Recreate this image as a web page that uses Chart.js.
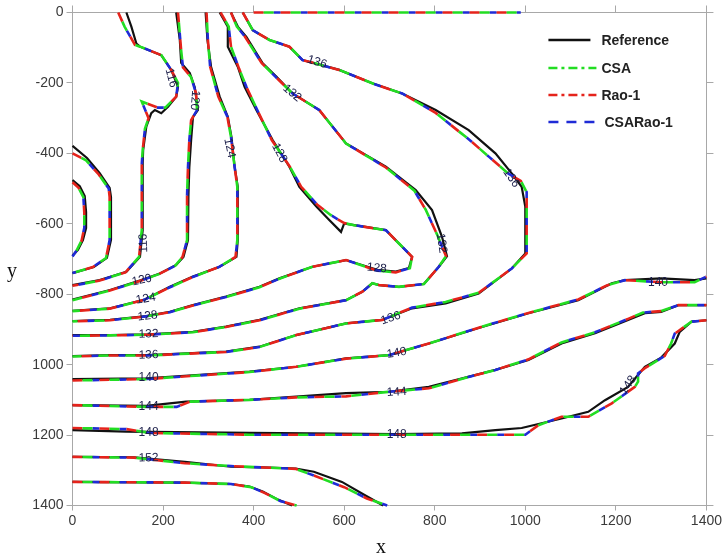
<!DOCTYPE html>
<html>
<head>
<meta charset="utf-8">
<title>Contour comparison</title>
<script src="https://cdn.jsdelivr.net/npm/chart.js@4.4.1/dist/chart.umd.min.js"></script>
<style>
    html, body { margin: 0; padding: 0; background: #fff; }
    canvas { display: block; }
</style>
</head>
<body>
<canvas id="contour-chart" width="724" height="560"></canvas>
<script>
// 刻度標籤
const xTickLabels = ['0', '200', '400', '600', '800', '1000', '1200', '1400'];
const yTickLabels = ['0', '-200', '-400', '-600', '-800', '1000', '1200', '1400'];

// 等值線 (x, y) — Reference
const ref108 = [[0,476],[16,493],[27,521],[30,567],[30,612],[23,646],[12,674],[0,691]];
const ref112 = [[0,379],[32,413],[60,456],[82,498],[85,524],[85,646],[76,697],[47,723],[0,740]];
const ref116 = [[119,0],[130,40],[141,88],[149,97],[196,121],[218,163],[233,211],[229,239],[211,268],[196,286],[182,277],[174,286],[163,324],[156,391],[155,427],[155,618],[149,694],[119,736],[60,760],[0,774]];
const ref120 = [[229,0],[237,78],[240,143],[259,172],[270,212],[277,277],[266,297],[262,362],[258,440],[256,520],[255,646],[245,694],[229,717],[193,741],[152,760],[83,788],[0,815]];
const ref124 = [[294,0],[298,78],[306,154],[325,239],[343,296],[351,353],[358,438],[365,495],[365,646],[362,694],[325,722],[266,750],[215,779],[160,815],[83,840],[0,847]];
const ref128 = [[325,0],[343,40],[343,97],[365,154],[380,211],[406,277],[442,362],[479,438],[501,495],[538,550],[567,589],[593,623],[600,599],[622,604],[692,618],[721,656],[750,694],[743,726],[714,736],[673,731],[604,703],[530,722],[457,755],[413,779],[339,807],[266,831],[215,850],[163,862],[83,873],[0,876]];
const ref132 = [[350,0],[365,40],[384,69],[420,144],[450,182],[486,230],[545,277],[604,372],[692,438],[758,504],[794,561],[816,637],[827,692],[809,722],[776,771],[721,779],[677,774],[662,769],[640,793],[604,817],[501,840],[413,873],[339,892],[266,907],[167,914],[83,916],[0,916]];
const ref136 = [[376,0],[398,50],[435,78],[479,97],[508,135],[589,163],[662,201],[728,230],[802,277],[875,334],[934,400],[970,457],[992,495],[1000,552],[1000,684],[970,727],[897,798],[824,826],[750,840],[684,873],[604,883],[494,916],[413,949],[339,963],[167,973],[83,973],[0,976]];
const ref140 = [[0,1041],[163,1039],[391,1020],[494,1006],[604,982],[699,973],[787,940],[897,896],[1007,854],[1117,817],[1191,769],[1220,760],[1300,755],[1374,760],[1400,755]];
const ref144 = [[0,1115],[163,1117],[251,1105],[391,1100],[494,1091],[604,1081],[699,1077],[787,1063],[861,1039],[934,1015],[1007,987],[1080,940],[1154,911],[1227,873],[1264,854],[1300,850],[1338,831],[1400,831]];
const ref148 = [[0,1186],[119,1190],[391,1194],[714,1197],[860,1195],[934,1186],[992,1180],[1080,1153],[1139,1134],[1176,1101],[1227,1063],[1264,1006],[1300,980],[1330,940],[1341,907],[1367,878],[1400,874]];
const ref152 = [[0,1262],[136,1263],[248,1276],[350,1290],[420,1292],[493,1295],[533,1304],[595,1333],[645,1370],[686,1400]];
const ref156 = [[0,1333],[248,1335],[350,1339],[391,1346],[420,1360],[455,1384],[485,1400]];

// 等值線 — CSA / Rao-1 / CSARao-1 (三者幾乎重合)
const alg108 = [[0,482],[13,497],[24,524],[26,567],[26,612],[20,648],[9,676],[0,693]];
const alg112 = [[0,400],[30,420],[58,460],[80,500],[82,524],[82,646],[74,697],[45,723],[0,740]];
const alg116 = [[101,0],[115,40],[138,92],[149,97],[196,121],[218,163],[233,200],[229,239],[205,270],[188,270],[153,253],[168,300],[160,330],[155,391],[153,430],[153,618],[147,694],[117,738],[58,762],[0,776]];
const alg120 = [[233,0],[240,108],[244,156],[262,184],[273,230],[275,277],[262,306],[258,362],[255,440],[253,520],[253,646],[243,694],[227,719],[191,743],[150,762],[81,790],[0,817]];
const alg124 = [[296,0],[299,78],[304,154],[322,239],[342,296],[350,353],[358,438],[364,495],[364,646],[360,694],[323,723],[264,752],[214,781],[158,816],[82,841],[0,848]];
const alg128 = [[327,0],[345,40],[350,97],[368,160],[384,211],[408,277],[440,362],[480,438],[505,495],[540,545],[570,575],[600,598],[622,604],[692,618],[721,656],[750,694],[745,726],[714,738],[673,733],[604,703],[530,722],[457,756],[413,780],[339,808],[266,832],[215,851],[163,863],[83,874],[0,877]];
const alg132 = [[350,0],[363,40],[381,69],[418,144],[448,182],[486,230],[545,277],[604,372],[692,440],[755,506],[780,560],[805,630],[825,692],[809,722],[776,771],[721,779],[677,774],[662,769],[640,793],[604,817],[501,841],[413,874],[339,893],[266,908],[167,915],[83,917],[0,918]];
const alg136 = [[376,0],[398,50],[435,78],[479,97],[508,135],[589,163],[662,201],[728,230],[802,285],[875,360],[920,410],[962,457],[990,478],[1003,510],[1003,684],[970,727],[897,796],[824,822],[750,838],[684,873],[604,883],[494,916],[413,950],[339,964],[167,974],[83,974],[0,977]];
const alg136Edge = [[400,0],[990,0]];
const alg140 = [[0,1045],[163,1041],[391,1021],[494,1006],[604,983],[699,973],[787,940],[897,895],[1007,853],[1117,815],[1180,775],[1220,760],[1300,766],[1374,766],[1400,750]];
const alg144 = [[0,1115],[163,1120],[230,1120],[260,1105],[391,1100],[494,1093],[604,1090],[699,1077],[787,1067],[861,1040],[934,1015],[1007,985],[1080,937],[1154,908],[1227,870],[1260,852],[1300,848],[1338,831],[1400,831]];
const alg148 = [[0,1180],[119,1183],[171,1194],[391,1199],[714,1199],[1000,1199],[1029,1172],[1080,1148],[1139,1148],[1191,1110],[1242,1063],[1249,1048],[1249,1025],[1264,1010],[1308,975],[1322,940],[1330,912],[1367,878],[1400,874]];
const alg152 = [[0,1262],[136,1264],[248,1280],[350,1288],[420,1292],[493,1296],[533,1315],[600,1348],[650,1380],[695,1400]];
const alg156 = [[0,1333],[248,1335],[350,1339],[395,1348],[425,1365],[460,1388],[495,1400]];

// 等值線數值標籤: [文字, x, y, 旋轉角度]
const contourLabels = [
    ['116', 218, 186, 75], ['116', 157, 655, -92],
    ['120', 270, 249, 95], ['124', 347, 385, 78],
    ['128', 457, 399, 62], ['132', 485, 229, 40], ['136', 540, 141, 18],
    ['132', 815, 655, 82], ['136', 969, 470, 55], ['128', 672, 726, 5],
    ['136', 703, 868, -18], ['140', 716, 967, -10], ['144', 716, 1078, -4], ['148', 716, 1200, 0],
    ['140', 1293, 766, 0], ['148', 1227, 1058, -55],
    ['120', 153, 760, -12], ['124', 162, 813, -10], ['128', 166, 862, -6], ['132', 168, 913, -2],
    ['136', 168, 973, -2], ['140', 168, 1038, 0], ['144', 168, 1120, 0], ['148', 168, 1194, 0], ['152', 168, 1265, -2]
];

const refContours = [ref108, ref112, ref116, ref120, ref124, ref128, ref132, ref136, ref140, ref144, ref148, ref152, ref156];
const algContours = [alg108, alg112, alg116, alg120, alg124, alg128, alg132, alg136, alg136Edge, alg140, alg144, alg148, alg152, alg156];

// 各方法樣式
const METHODS = [
    { label: 'CSA',      color: '#22dd22', width: 2.6, dash: [10, 17], offset: 17, order: 1, legendDash: [9, 4, 3, 4] },
    { label: 'Rao-1',    color: '#e5231b', width: 2.6, dash: [10, 17], offset: 0,  order: 2, legendDash: [9, 4, 3, 4] },
    { label: 'CSARao-1', color: '#1f2bd6', width: 2.6, dash: [7, 20],  offset: 7,  order: 3, legendDash: [10, 8] }
];
const REFERENCE = { label: 'Reference', color: '#111111', width: 2.2, order: 4, legendDash: [] };

function buildDatasets() {
    const datasets = [];
    METHODS.forEach(m => {
        algContours.forEach(points => {
            datasets.push({
                label: m.label,
                data: points,
                showLine: true,
                borderColor: m.color,
                borderWidth: m.width,
                borderDash: m.dash,
                borderDashOffset: m.offset,
                pointRadius: 0,
                fill: false,
                order: m.order,
                clip: 4
            });
        });
    });
    refContours.forEach(points => {
        datasets.push({
            label: REFERENCE.label,
            data: points,
            showLine: true,
            borderColor: REFERENCE.color,
            borderWidth: REFERENCE.width,
            pointRadius: 0,
            fill: false,
            order: REFERENCE.order,
            clip: 4
        });
    });
    return datasets;
}

// 等值線標籤
const contourLabelPlugin = {
    id: 'contourLabels',
    afterDatasetsDraw(chart) {
        const { ctx, scales } = chart;
        ctx.save();
        ctx.font = '12px "Liberation Sans", Arial, sans-serif';
        ctx.fillStyle = '#1c1f4a';
        ctx.textAlign = 'center';
        ctx.textBaseline = 'middle';
        contourLabels.forEach(([text, x, y, angle]) => {
            ctx.save();
            ctx.translate(scales.x.getPixelForValue(x), scales.y.getPixelForValue(y));
            ctx.rotate(angle * Math.PI / 180);
            ctx.fillText(text, 0, 0);
            ctx.restore();
        });
        ctx.restore();
    }
};

// 圖例與軸名稱
const legendPlugin = {
    id: 'insideLegend',
    afterDraw(chart) {
        const { ctx, chartArea } = chart;
        const items = [REFERENCE, ...METHODS];
        const rowY = [40, 68, 95, 122];
        const lineX0 = chartArea.right - 158;
        ctx.save();
        items.forEach((item, i) => {
            ctx.beginPath();
            ctx.strokeStyle = item.color;
            ctx.lineWidth = 2.6;
            ctx.setLineDash(item.legendDash);
            ctx.moveTo(lineX0, rowY[i]);
            ctx.lineTo(lineX0 + (i === 0 ? 42 : 48), rowY[i]);
            ctx.stroke();
            ctx.setLineDash([]);
            ctx.font = 'bold 14px "Liberation Sans", Arial, sans-serif';
            ctx.fillStyle = '#222';
            ctx.textBaseline = 'middle';
            ctx.textAlign = 'left';
            ctx.fillText(item.label, lineX0 + (i === 3 ? 56 : 53), rowY[i] + 1);
        });
        ctx.font = '20px "Liberation Serif", "DejaVu Serif", serif';
        ctx.fillStyle = '#111';
        ctx.textAlign = 'center';
        ctx.fillText('y', 12, 272);
        ctx.fillText('x', 381, 548);
        ctx.restore();
    }
};

const axisColor = '#a8a8a8';
const tickFont = { family: '"Liberation Sans", Arial, sans-serif', size: 14 };

const chart = new Chart(document.getElementById('contour-chart'), {
    type: 'scatter',
    data: { datasets: buildDatasets() },
    options: {
        responsive: false,
        animation: false,
        events: [],
        layout: { padding: 0 },
        plugins: {
            legend: { display: false },
            tooltip: { enabled: false }
        },
        scales: {
            x: {
                type: 'linear',
                position: 'bottom',
                min: 0, max: 1400,
                ticks: {
                    stepSize: 200,
                    color: '#3a3a3a',
                    font: tickFont,
                    padding: 2,
                    callback: (v) => xTickLabels[Math.round(v / 200)]
                },
                grid: { drawOnChartArea: false, tickLength: 5, color: axisColor },
                border: { color: axisColor },
                afterFit: (s) => { s.height = 54.5; }
            },
            y: {
                type: 'linear',
                position: 'left',
                reverse: true,
                min: 0, max: 1400,
                ticks: {
                    stepSize: 200,
                    color: '#3a3a3a',
                    font: tickFont,
                    padding: 3,
                    callback: (v) => yTickLabels[Math.round(v / 200)]
                },
                grid: { drawOnChartArea: false, tickLength: 6, color: axisColor },
                border: { color: axisColor },
                afterFit: (s) => { s.width = 72.5; }
            },
            x2: {
                type: 'linear',
                axis: 'x',
                position: 'top',
                min: 0, max: 1400,
                ticks: { stepSize: 200, display: false },
                grid: { drawOnChartArea: false, tickLength: 7, color: axisColor },
                border: { color: axisColor },
                afterFit: (s) => { s.height = 12.5; }
            },
            y2: {
                type: 'linear',
                axis: 'y',
                position: 'right',
                reverse: true,
                min: 0, max: 1400,
                ticks: { stepSize: 200, display: false },
                grid: { drawOnChartArea: false, tickLength: 7, color: axisColor },
                border: { color: axisColor },
                afterFit: (s) => { s.width = 15.5; }
            }
        }
    },
    plugins: [contourLabelPlugin, legendPlugin]
});
</script>
</body>
</html>
